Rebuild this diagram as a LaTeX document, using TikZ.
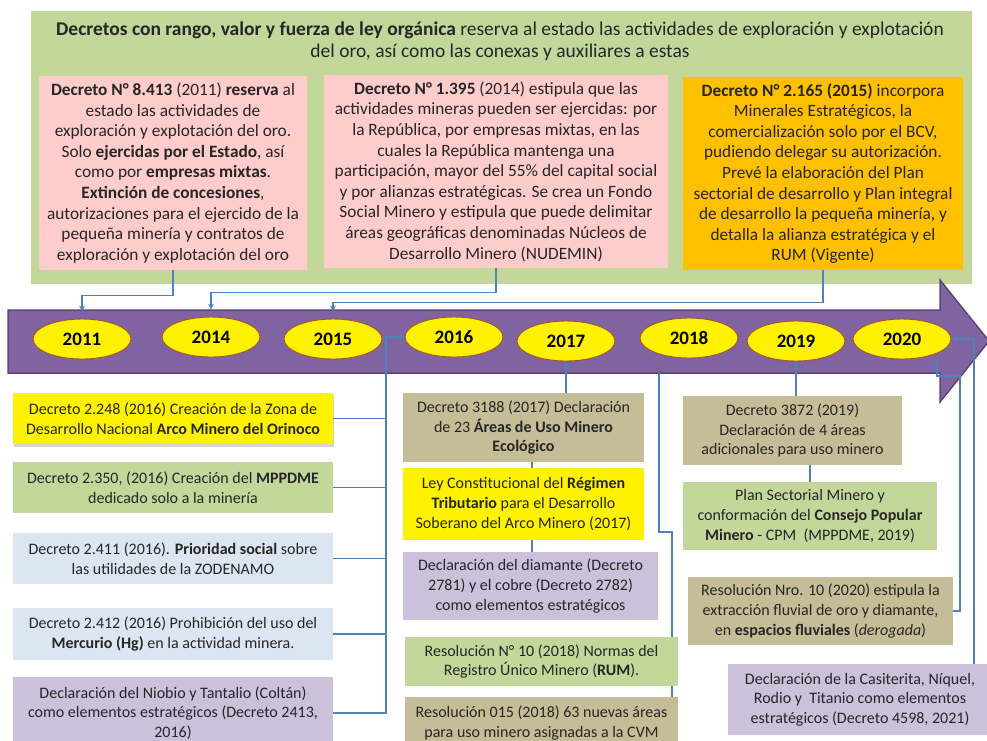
\documentclass[tikz,border=0pt]{standalone}
\usepackage{fontspec}
\setmainfont{Carlito}
\usetikzlibrary{arrows.meta,shapes.geometric,shadows}
\definecolor{greenbg}{RGB}{196,215,155}
\definecolor{pinkc}{RGB}{255,204,204}
\definecolor{orangec}{RGB}{255,192,0}
\definecolor{lblue}{RGB}{220,230,242}
\definecolor{lpurple}{RGB}{204,192,218}
\definecolor{tanc}{RGB}{196,189,151}
\definecolor{bandc}{RGB}{128,100,162}
\definecolor{bandborder}{RGB}{92,70,120}
\definecolor{ellborder}{RGB}{170,80,40}
\definecolor{lineblue}{RGB}{79,129,189}
\definecolor{txt}{RGB}{38,38,38}
\pgfdeclarelayer{bg}
\pgfdeclarelayer{conn}
\pgfsetlayers{bg,conn,main}
\begin{document}
\begin{tikzpicture}[x=1pt,y=-1pt,
  banner/.style={fill=greenbg, draw=none, minimum width=941pt, minimum height=273pt, inner sep=0pt},
  titletext/.style={align=center, text=txt, font=\fontsize{19.5}{22}\selectfont, inner sep=0pt},
  topbox/.style={align=center, text=txt, font=\fontsize{17.3}{20.6}\selectfont, inner sep=0pt, draw=none},
  lowbox/.style={align=center, text=txt, font=\fontsize{16}{19.6}\selectfont, inner sep=0pt, draw=none},
  yr/.style={ellipse, draw=ellborder, fill=yellow, line width=0.9pt, minimum width=98pt, minimum height=40pt, inner sep=0pt, font=\fontsize{19}{20}\selectfont\bfseries},
  conn/.style={draw=lineblue, line width=1.1pt},
  tip/.style={-{Stealth[length=6pt,width=6pt]}},
  band/.style={fill=bandc, draw=bandborder, line width=1.5pt, line join=miter}
]
\useasboundingbox (0,0) rectangle (987,740);

\begin{pgfonlayer}{bg}
\node[banner] (G) at (501.5,147.5) {};
\draw[band] (8,310) -- (940,310) -- (940,280) -- (989,341) -- (940,402) -- (940,373) -- (8,373) -- cycle;
\node[yr] (E11) at (82,339) {2011};
\node[yr] (E14) at (211,337) {2014};
\node[yr] (E15) at (333,339) {2015};
\node[yr] (E16) at (454,337) {2016};
\node[yr] (E17) at (566,341) {2017};
\node[yr] (E18) at (689,338) {2018};
\node[yr] (E19) at (796,341) {2019};
\node[yr] (E20) at (902,339) {2020};
\end{pgfonlayer}

\node[titletext] (T) at (500,41) {\textbf{Decretos con rango, valor y fuerza de ley orgánica} reserva al estado las actividades de exploración y explotación\\del oro, así como las conexas y auxiliares a estas};

\node[topbox, fill=pinkc, minimum width=268pt, minimum height=194pt] (B1) at (173,173) {\textbf{Decreto N° 8.413} (2011) \textbf{reserva} al\\estado las actividades de\\exploración y explotación del oro.\\Solo \textbf{ejercidas por el Estado}, así\\como por \textbf{empresas mixtas}.\\\textbf{Extinción de concesiones},\\autorizaciones para el ejercido de la\\pequeña minería y contratos de\\exploración y explotación del oro};

\node[topbox, fill=pinkc, minimum width=344pt, minimum height=193pt] (B2) at (496,171.5) {\textbf{Decreto N° 1.395} (2014) estipula que las\\actividades mineras pueden ser ejercidas: por\\la República, por empresas mixtas, en las\\cuales la República mantenga una\\participación, mayor del 55\% del capital social\\y por alianzas estratégicas. Se crea un Fondo\\Social Minero y estipula que puede delimitar\\áreas geográficas denominadas Núcleos de\\Desarrollo Minero (NUDEMIN)};

\node[topbox, fill=orangec, minimum width=280pt, minimum height=193pt] (B3) at (823,173.5) {\textbf{Decreto N° 2.165 (2015)} incorpora\\Minerales Estratégicos, la\\comercialización solo por el BCV,\\pudiendo delegar su autorización.\\Prevé la elaboración del Plan\\sectorial de desarrollo y Plan integral\\de desarrollo la pequeña minería, y\\detalla la alianza estratégica y el\\RUM (Vigente)};

\node[lowbox, fill=yellow, minimum width=320pt, minimum height=51pt, drop shadow={opacity=0.35, shadow xshift=1pt, shadow yshift=-2.5pt}] (L1) at (173,418.5) {Decreto 2.248 (2016) Creación de la Zona de\\Desarrollo Nacional \textbf{Arco Minero del Orinoco}};
\node[lowbox, fill=greenbg, minimum width=320pt, minimum height=51pt] (L2) at (173,487.5) {Decreto 2.350, (2016) Creación del \textbf{MPPDME}\\dedicado solo a la minería};
\node[lowbox, fill=lblue, minimum width=320pt, minimum height=51pt] (L3) at (173,558.5) {Decreto 2.411 (2016). \textbf{Prioridad social} sobre\\las utilidades de la ZODENAMO};
\node[lowbox, fill=lblue, minimum width=320pt, minimum height=52pt] (L4) at (173,634) {Decreto 2.412 (2016) Prohibición del uso del\\\textbf{Mercurio (Hg)} en la actividad minera.};
\node[lowbox, fill=lpurple, minimum width=320pt, minimum height=72pt] (L5) at (173,713) {Declaración del Niobio y Tantalio (Coltán)\\como elementos estratégicos (Decreto 2413,\\2016)};

\node[lowbox, fill=tanc, minimum width=241pt, minimum height=69pt] (M1) at (523.5,427.5) {Decreto 3188 (2017) Declaración\\de 23 \textbf{Áreas de Uso Minero}\\\textbf{Ecológico}};
\node[lowbox, fill=yellow, minimum width=241pt, minimum height=72pt] (M2) at (523.5,504) {Ley Constitucional del \textbf{Régimen}\\\textbf{Tributario} para el Desarrollo\\Soberano del Arco Minero (2017)};
\node[lowbox, fill=lpurple, minimum width=255pt, minimum height=68pt] (M3) at (530.5,586) {Declaración del diamante (Decreto\\2781) y el cobre (Decreto 2782)\\como elementos estratégicos};
\node[lowbox, fill=greenbg, minimum width=273pt, minimum height=49pt] (M4) at (541.5,661.5) {Resolución N° 10 (2018) Normas del\\Registro Único Minero (\textbf{RUM}).};
\node[lowbox, fill=tanc, minimum width=273pt, minimum height=52pt] (M5) at (541.5,723) {Resolución 015 (2018) 63 nuevas áreas\\para uso minero asignadas a la CVM};

\node[lowbox, fill=tanc, minimum width=219pt, minimum height=69pt] (R1) at (792.5,430.5) {Decreto 3872 (2019)\\Declaración de 4 áreas\\adicionales para uso minero};
\node[lowbox, fill=greenbg, minimum width=254pt, minimum height=68pt] (R2) at (810,516) {Plan Sectorial Minero y\\conformación del \textbf{Consejo Popular}\\\textbf{Minero} - CPM\ \ (MPPDME, 2019)};
\node[lowbox, fill=tanc, minimum width=265pt, minimum height=68pt] (R3) at (820.5,611) {Resolución Nro. 10 (2020) estipula la\\extracción fluvial de oro y diamante,\\en \textbf{espacios fluviales} (\textit{derogada})};
\node[lowbox, fill=lpurple, minimum width=264pt, minimum height=71pt] (R4) at (860,699.5) {Declaración de la Casiterita, Níquel,\\Rodio y\ \ Titanio como elementos\\estratégicos (Decreto 4598, 2021)};

\begin{pgfonlayer}{conn}
% top connectors
\draw[conn,tip] (B1.south) -- ++(0,25) -| ([yshift=7pt]E11.north);
\draw[conn,tip] (B2.south) -- ++(0,24) -| ([yshift=7pt]E14.north);
\draw[conn,tip] (B3.south) -- ++(0,32) -| ([yshift=7pt]E15.north);
% left column
\coordinate (lj) at (386,337);
\draw[conn,tip,line width=1.5pt] (L5.east) -| (lj) -- (E16.west);
\draw[conn,line width=1.5pt] (L1.east) -- (L1.east -| lj);
\draw[conn,line width=1.5pt] (L2.east) -- (L2.east -| lj);
\draw[conn,line width=1.5pt] (L3.east) -- (L3.east -| lj);
\draw[conn,line width=1.5pt] (L4.east) -- (L4.east -| lj);
% middle column
\draw[conn,tip] (M1.north -| E17.south) -- (E17.south);
\draw[conn] ([xshift=8.5pt]M1.south) -- ([xshift=8.5pt]M2.north);
\draw[conn] ([xshift=8.5pt]M2.south) -- ([xshift=1.5pt]M3.north);
\coordinate (c18) at (659,373);
\draw[conn] (c18) -- (659,532) -| ([xshift=130.5pt]M5.north);
% right column
\draw[conn,tip] (R1.north -| E19.south) -- (E19.south);
\draw[conn] (R2.north) -- (R2.north |- R1.south);
\coordinate (r3a) at (960,376);
\draw[conn,tip] (R3.east) -| (r3a) -| ([xshift=35pt]E20.south);
\coordinate (k4) at (974,339);
\draw[conn,tip] (R4.north -| k4) -- (k4) -- (E20.east);
\end{pgfonlayer}
\end{tikzpicture}
\end{document}
